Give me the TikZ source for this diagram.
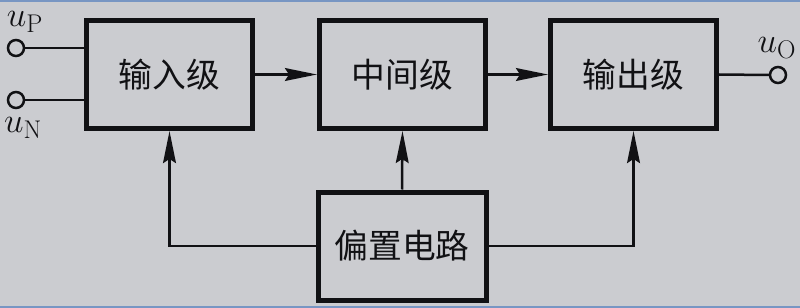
\documentclass[tikz,border=0pt]{standalone}
\usepackage{fontspec}
\newfontfamily\cjk{Noto Sans CJK SC}
\definecolor{bggray}{RGB}{203,204,208}
\definecolor{inkblk}{RGB}{17,17,20}
\definecolor{edgeblue}{RGB}{120,150,195}
\usetikzlibrary{arrows.meta,positioning,calc}

\begin{document}
\begin{tikzpicture}[x=0.025cm, y=-0.025cm,
  node_blk/.style={draw=inkblk, line width=5*0.025cm, minimum width=166*0.025cm, minimum height=108*0.025cm, align=center, font=\cjk\fontsize{24}{28}\selectfont, text=inkblk, inner sep=0pt},
  node_term/.style={draw=inkblk, circle, line width=2.5*0.025cm, minimum size=16*0.025cm, inner sep=0pt, fill=bggray},
  node_lbl/.style={font=\fontsize{26}{28}\selectfont, text=inkblk, inner sep=0pt},
  wire/.style={draw=inkblk, line width=2.5*0.025cm},
  feed/.style={wire, -{Stealth[length=0.8cm, width=0.32cm, inset=0.1cm]}}
]
  %% background and frame
  \fill[bggray] (0,0) rectangle (800,308);
  \useasboundingbox (0,0) rectangle (800,308);
  \draw[edgeblue, line width=2*0.025cm] (0,1) -- (800,1);
  \draw[edgeblue, line width=2*0.025cm] (0,307) -- (800,307);

  %% amplifier stages
  \node[node_blk] (inp)  at (169.5,74.5) {输入级};
  \node[node_blk] (mid)  at (402.5,74.5) {中间级};
  \node[node_blk] (outp) at (633.5,74.5) {输出级};
  \node[node_blk, minimum width=168*0.025cm] (bias) at (402,246) {偏置电路};

  \draw[feed] (inp.east) -- (mid.west);
  \draw[feed] (mid.east) -- (outp.west);

  %% bias feeds
  \draw[feed] (bias.west) -| (inp.south);
  \draw[feed] (bias.north) -- (mid.south);
  \draw[feed] (bias.east) -| (outp.south);

  %% terminals
  \node[node_term] (tP) at (16,48) {};
  \node[node_term] (tN) at (16,100) {};
  \node[node_term] (tO) at (778,75) {};

  \draw[wire] (tP.east) -- (tP -| inp.west);
  \draw[wire] (tN.east) -- (tN -| inp.west);
  \draw[wire] (outp.east) -- (tO.west);

  \node[node_lbl] (lP) at (25,22)  {$u_{\mathrm{P}}$};
  \node[node_lbl] (lN) at (23,128) {$u_{\mathrm{N}}$};
  \node[node_lbl] (lO) at (777,48) {$u_{\mathrm{O}}$};
\end{tikzpicture}
\end{document}
